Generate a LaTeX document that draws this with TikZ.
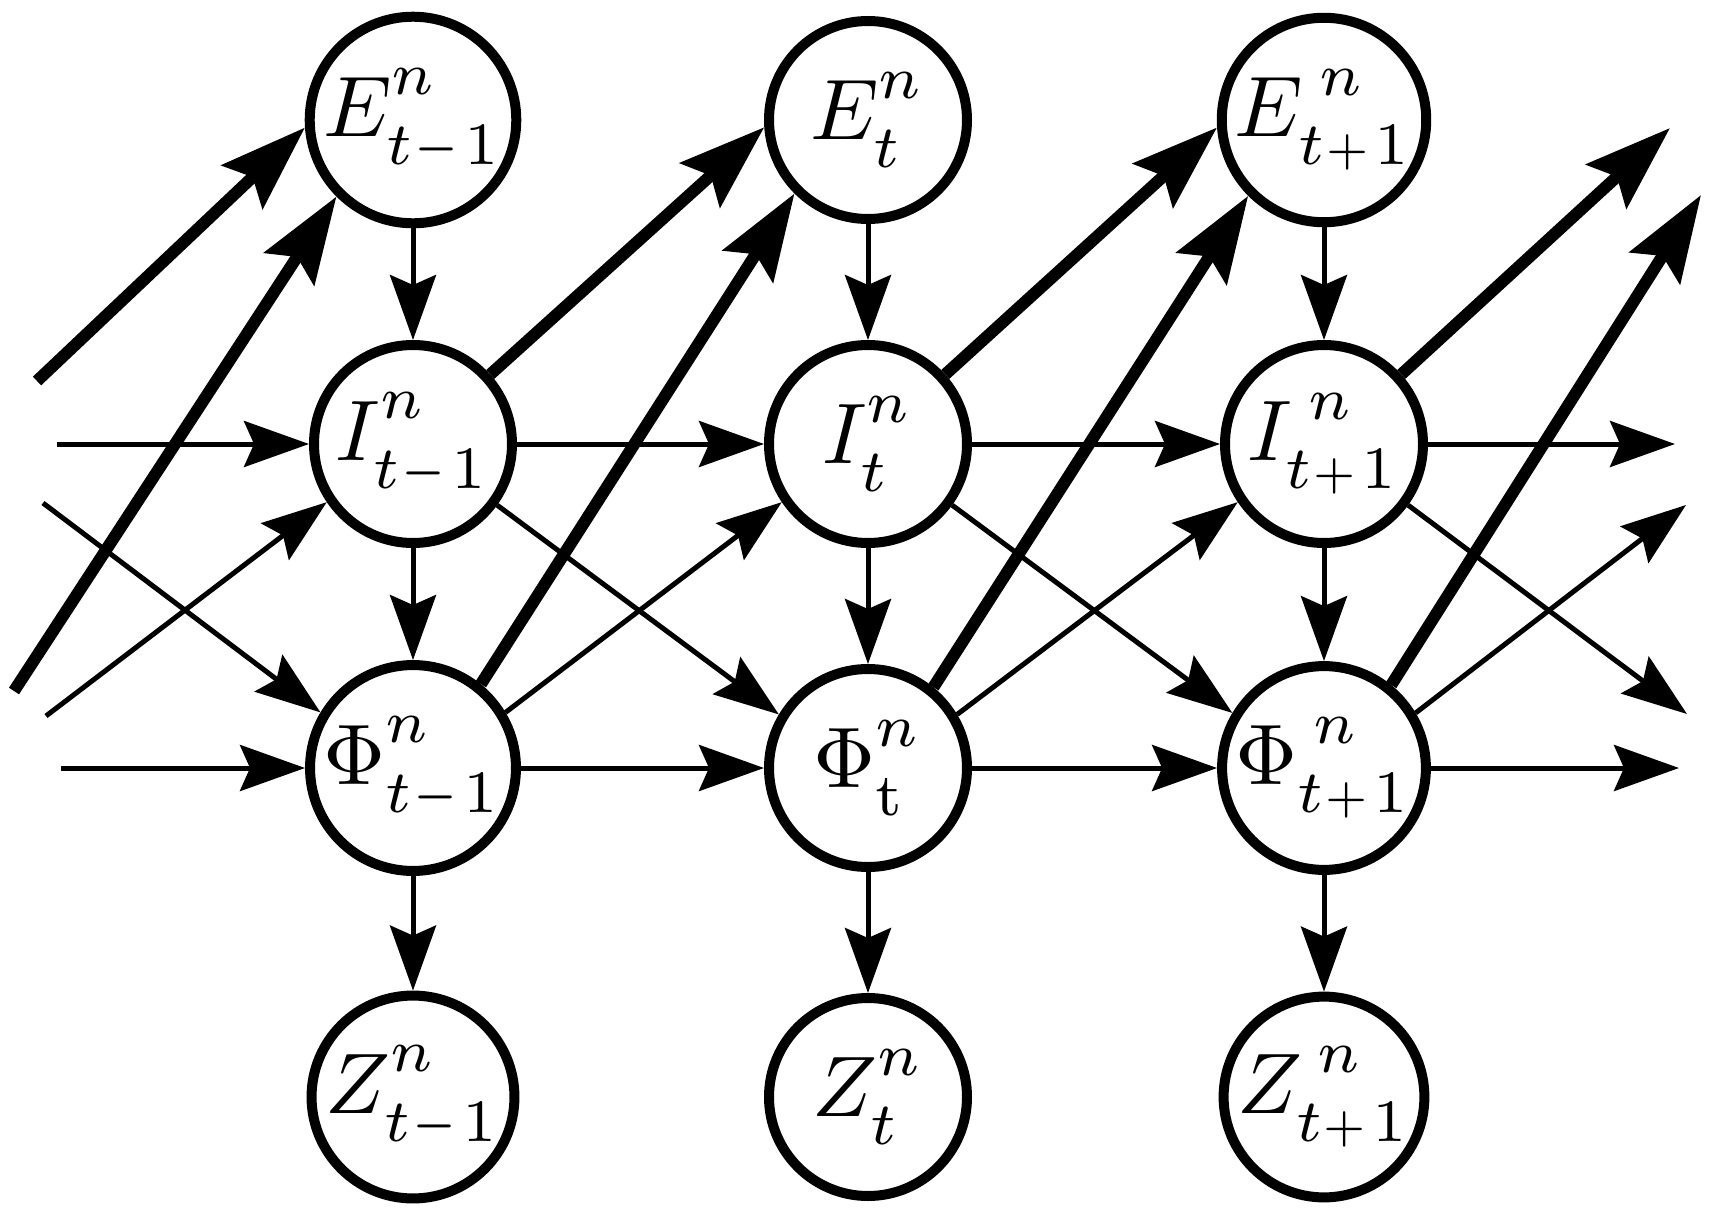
\documentclass[tikz,border=0pt]{standalone}
\usepackage{graphicx}
\usetikzlibrary{arrows.meta}
\newcommand{\lbl}[3]{\scalebox{8.6}{$#1^{\raisebox{0.12em}{$\scriptstyle #2$}}_{\raisebox{-0.08em}{$\scriptstyle #3$}}$}}
\newcommand{\smi}{\mkern0.5mu\mathord{\scalebox{0.82}[1]{$\scriptstyle-$}}\mkern1.5mu}
\newcommand{\spl}{\mkern0.5mu\mathord{\scalebox{0.8}{$\scriptstyle+$}}\mkern1.5mu}
\begin{document}
\begin{tikzpicture}[x=1pt,y=-1pt,
  st/.style={circle,draw,line width=10pt,fill=white,minimum size=198pt,inner sep=0pt},
  thinarr/.style={line width=5pt,line cap=butt,-{Stealth[length=65pt,width=46pt,inset=10pt]}},
  thickarr/.style={line width=12pt,line cap=butt,-{Stealth[length=86pt,width=59pt,inset=14pt]}}]
\useasboundingbox (0,0) rectangle (1717,1218);

% nodes
\node[st] (E1) at (413,120)  {\lbl{E}{n}{t\smi 1}};
\node[st] (E2) at (868,120)  {\lbl{E}{n}{t}};
\node[st] (E3) at (1324,120) {\lbl{E}{\mkern4mu n}{t\spl 1}};
\node[st] (I1) at (413,444)  {\lbl{I}{n}{t\smi 1}};
\node[st] (I2) at (868,444)  {\lbl{I}{n}{t}};
\node[st] (I3) at (1324,444) {\lbl{I}{\mkern4mu n}{t\spl 1}};
\node[st] (P1) at (413,768)  {\lbl{\Phi}{n}{t\smi 1}};
\node[st] (P2) at (868,768)  {\lbl{\Phi}{n}{\mathrm{t}}};
\node[st] (P3) at (1324,768) {\lbl{\Phi}{\mkern4mu n}{t\spl 1}};
\node[st] (Z1) at (413,1097)  {\lbl{Z}{n}{t\smi 1}};
\node[st] (Z2) at (868,1097)  {\lbl{Z}{n}{t}};
\node[st] (Z3) at (1324,1097) {\lbl{Z}{\mkern4mu n}{t\spl 1}};

% free ends
\coordinate (iIn)  at (57,444);
\coordinate (pIn)  at (61,768);
\coordinate (iOut) at (1675,444);
\coordinate (pOut) at (1679,768);
\coordinate (tkA)  at (37,381);
\coordinate (tkB)  at (14,691);
\coordinate (dIP)  at (43,503);
\coordinate (dPI)  at (46,716);
\coordinate (tkAo) at (1670,128);
\coordinate (tkBo) at (1701,195);
\coordinate (dIPo) at (1687,714);
\coordinate (dPIo) at (1686,505);

% vertical edges
\foreach \k in {1,2,3}{
  \draw[thinarr] (E\k.south) -- (I\k.north);
  \draw[thinarr] (I\k.south) -- (P\k.north);
  \draw[thinarr] (P\k.south) -- (Z\k.north);
}

% horizontal edges
\draw[thinarr] (iIn) -- (I1.west);
\draw[thinarr] (I1.east) -- (I2.west);
\draw[thinarr] (I2.east) -- (I3.west);
\draw[thinarr] (I3.east) -- (iOut);
\draw[thinarr] (pIn) -- (P1.west);
\draw[thinarr] (P1.east) -- (P2.west);
\draw[thinarr] (P2.east) -- (P3.west);
\draw[thinarr] (P3.east) -- (pOut);

% thin diagonals
\draw[thinarr] (dIP) -- (P1.149);
\draw[thinarr] (I1.324) -- (P2.149);
\draw[thinarr] (I2.324) -- (P3.149);
\draw[thinarr] (I3.324) -- (dIPo);
\draw[thinarr] (dPI) -- (I1.214);
\draw[thinarr] (P1.31) -- (I2.214);
\draw[thinarr] (P2.31) -- (I3.214);
\draw[thinarr] (P3.31) -- (dPIo);

% thick diagonals
\draw[thickarr] (tkA) -- (E1.184);
\draw[thickarr] (I1.42) -- (E2.184);
\draw[thickarr] (I2.42) -- (E3.184);
\draw[thickarr] (I3.42) -- (tkAo);
\draw[thickarr] (tkB) -- (E1.225);
\draw[thickarr] (P1.51) -- (E2.225);
\draw[thickarr] (P2.51) -- (E3.225);
\draw[thickarr] (P3.51) -- (tkBo);
\end{tikzpicture}
\end{document}
